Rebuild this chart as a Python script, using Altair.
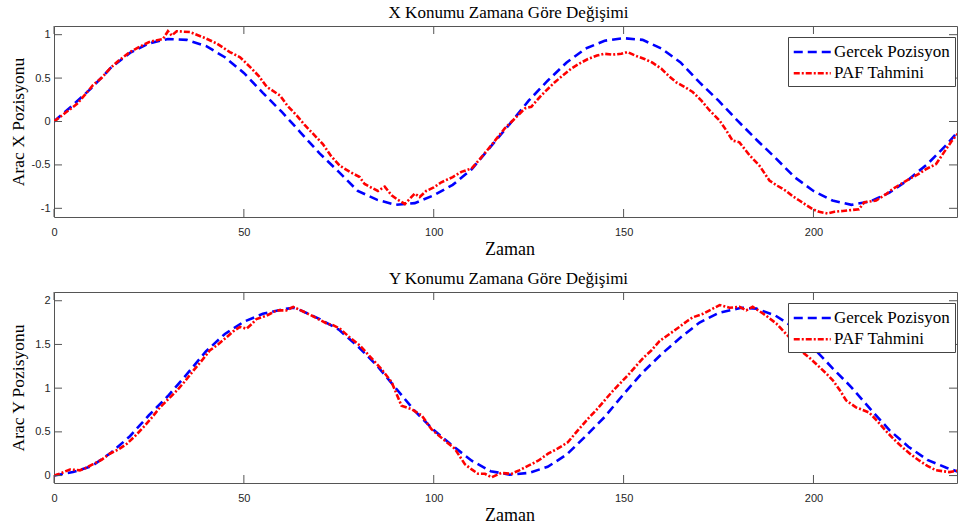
import altair as alt
import pandas as pd

# ---------------- data ----------------
SERIES = ["Gercek Pozisyon", "PAF Tahmini"]

X_TRUE_T = [0, 5, 10, 15, 20, 25, 30, 35, 40, 45, 50, 55, 60, 65, 70, 75, 80, 85, 90, 95,
            100, 105, 110, 115, 120, 125, 130, 135, 140, 145, 150, 155, 160, 165, 170, 175,
            180, 185, 190, 195, 200, 205, 210, 215, 220, 225, 230, 235, 238.4]
X_TRUE_V = [0.00, 0.19, 0.39, 0.62, 0.79, 0.90, 0.95, 0.94, 0.87, 0.74, 0.56, 0.33, 0.11, -0.13,
            -0.37, -0.58, -0.80, -0.90, -0.96, -0.94, -0.85, -0.73, -0.55, -0.29, -0.03, 0.24,
            0.47, 0.68, 0.84, 0.93, 0.96, 0.94, 0.84, 0.68, 0.45, 0.24, 0.01, -0.21, -0.42,
            -0.64, -0.80, -0.91, -0.96, -0.92, -0.82, -0.67, -0.49, -0.27, -0.10]

X_PAF_T = [0, 3, 6, 8, 10.3, 12.5, 14.7, 17, 20, 22.5, 25.3, 28.7, 30, 31, 32.3, 35.8, 39.3,
           42.8, 46.3, 49, 51.6, 54, 56, 59.5, 61.5, 63.9, 66, 68.2, 70.8, 73, 75.3, 77.9,
           80.5, 81.8, 83.5, 85.3, 87.1, 88.9, 90.5, 92.4, 95, 96.3, 98, 100, 102, 105, 107.3,
           110, 112, 114.3, 116.5, 118.7, 121.5, 124, 125.7, 128.3, 131.8, 134, 136.2, 138.5,
           140.6, 143, 145, 147, 149.4, 151, 153, 155.5, 157.5, 159.9, 162, 163.9, 166, 168.2,
           170.5, 172.6, 175.3, 177, 178.7, 180.5, 183.2, 185.8, 188.4, 190.5, 192.8, 194.5,
           196.3, 198, 199.8, 201.5, 203.7, 205.5, 207.7, 210, 212, 213.4, 216.5, 219, 220.8,
           223, 225.3, 227.5, 229.6, 232.3, 234.9, 236.5, 238.4]
X_PAF_V = [0.00, 0.10, 0.20, 0.30, 0.42, 0.50, 0.61, 0.70, 0.80, 0.86, 0.92, 0.95, 1.04, 0.99,
           1.04, 1.03, 0.97, 0.90, 0.80, 0.74, 0.63, 0.52, 0.40, 0.30, 0.18, 0.07, -0.04, -0.14,
           -0.26, -0.40, -0.51, -0.58, -0.64, -0.72, -0.76, -0.80, -0.75, -0.85, -0.90, -0.95,
           -0.83, -0.87, -0.80, -0.76, -0.70, -0.64, -0.58, -0.54, -0.44, -0.32, -0.20, -0.08,
           0.04, 0.15, 0.17, 0.30, 0.45, 0.53, 0.61, 0.67, 0.72, 0.76, 0.78, 0.77, 0.78, 0.80,
           0.76, 0.72, 0.68, 0.61, 0.52, 0.45, 0.40, 0.34, 0.24, 0.13, 0.01, -0.10, -0.22, -0.24,
           -0.39, -0.51, -0.68, -0.74, -0.80, -0.86, -0.91, -0.96, -1.01, -1.04, -1.06, -1.04,
           -1.03, -1.02, -1.01, -0.93, -0.91, -0.84, -0.78, -0.72, -0.66, -0.61, -0.55, -0.49,
           -0.32, -0.22, -0.12]

Y_TRUE_T = [0, 5, 10, 15, 20, 25, 30, 35, 40, 45, 50, 55, 60, 63, 65, 70, 75, 80, 85, 90, 95,
            100, 105, 110, 115, 120, 125, 130, 135, 140, 145, 150, 155, 160, 165, 170, 175,
            181, 185, 190, 195, 200, 205, 210, 215, 220, 225, 230, 235, 238.4]
Y_TRUE_V = [0.00, 0.04, 0.11, 0.26, 0.45, 0.69, 0.91, 1.16, 1.42, 1.62, 1.76, 1.85, 1.90, 1.92,
            1.89, 1.79, 1.67, 1.48, 1.26, 1.00, 0.74, 0.52, 0.34, 0.17, 0.05, 0.01, 0.03, 0.10,
            0.24, 0.45, 0.67, 0.93, 1.18, 1.39, 1.58, 1.75, 1.86, 1.92, 1.91, 1.83, 1.69, 1.46,
            1.23, 1.01, 0.76, 0.52, 0.33, 0.18, 0.09, 0.04]

Y_PAF_T = [0, 2, 4.2, 6.8, 8.5, 10.3, 12.5, 14.7, 17, 19.1, 21.3, 23.5, 25.7, 27.9, 30, 32.3,
           34.5, 36.7, 39, 41, 43.2, 45.4, 47.2, 49, 50.7, 52, 53.3, 56, 58.6, 61.2, 63, 65,
           67.4, 69.6, 71.8, 73.5, 75.3, 77.9, 80.5, 81.8, 84.5, 86.2, 88.9, 91.5, 94.1, 96.8,
           99.4, 102.9, 105.5, 108.2, 110, 111.7, 113.5, 115.2, 117.8, 120.4, 122.5, 124.8,
           127.5, 130.1, 132.7, 135.3, 138, 140.6, 142.8, 145, 147.2, 149.4, 151.6, 153.8,
           155.5, 157.3, 159.5, 162.1, 164.7, 166.5, 168.2, 170.9, 173.5, 175.3, 177.9, 180.5,
           182.3, 184, 185.8, 187.5, 190.2, 192.8, 195, 197.2, 199.4, 201.6, 203.3, 205.1,
           206.9, 208.6, 211.2, 213, 214.7, 216.9, 219.1, 221.3, 223.5, 225.7, 227.9, 230,
           232.3, 234, 235.8, 238.4]
Y_PAF_V = [0.00, 0.03, 0.07, 0.06, 0.09, 0.13, 0.18, 0.25, 0.30, 0.36, 0.45, 0.55, 0.66, 0.78,
           0.87, 0.97, 1.08, 1.20, 1.32, 1.43, 1.50, 1.58, 1.65, 1.70, 1.68, 1.73, 1.79, 1.83,
           1.89, 1.89, 1.93, 1.89, 1.84, 1.79, 1.74, 1.72, 1.68, 1.58, 1.49, 1.43, 1.30, 1.22,
           1.07, 0.80, 0.76, 0.69, 0.53, 0.40, 0.31, 0.13, 0.07, 0.02, 0.02, -0.02, 0.03, 0.02,
           0.06, 0.11, 0.17, 0.25, 0.31, 0.38, 0.52, 0.65, 0.75, 0.86, 0.97, 1.07, 1.17, 1.28,
           1.36, 1.43, 1.54, 1.62, 1.70, 1.76, 1.81, 1.85, 1.91, 1.95, 1.92, 1.93, 1.89, 1.93,
           1.88, 1.83, 1.74, 1.62, 1.52, 1.41, 1.33, 1.24, 1.17, 1.09, 0.98, 0.86, 0.78, 0.75,
           0.72, 0.62, 0.51, 0.41, 0.32, 0.24, 0.17, 0.11, 0.06, 0.05, 0.04, 0.06]

X_TICKS = [0, 50, 100, 150, 200]
X_DOMAIN = [0, 237.8]
TOP_TICKS = [-1, -0.5, 0, 0.5, 1]
TOP_DOMAIN = [-1.1, 1.1]
BOT_TICKS = [0, 0.5, 1, 1.5, 2]
BOT_DOMAIN = [-0.085, 2.1]

# ---------------- layout / style ----------------
W, H = 903, 191
SERIF = "Liberation Serif"
SANS = "Liberation Sans"
FRAME = "#555555"
TICK = 8
SYM = 18.5  # legend symbol column (line drawn twice as long)


def frame_df(t1, v1, t2, v2):
    return pd.DataFrame({
        "t": list(t1) + list(t2),
        "v": list(v1) + list(v2),
        "series": [SERIES[0]] * len(t1) + [SERIES[1]] * len(t2),
    })


def panel(df, ydom, yticks, ytitle, title):
    legend = alt.Legend(
        title=None, orient="none", legendX=734, legendY=11,
        symbolType="M-1,0L3,0", symbolSize=SYM * SYM, symbolStrokeWidth=2.5,
        symbolFillColor="transparent",
        labelFont=SERIF, labelFontSize=17, labelColor="black", labelLimit=0,
        padding=4.5, rowPadding=2.2, labelOffset=SYM + 2,
        fillColor="white", strokeColor="#444444",
    )
    xscale = alt.Scale(domain=X_DOMAIN, nice=False, zero=False)
    yscale = alt.Scale(domain=ydom, nice=False, zero=False)
    xaxis = alt.Axis(
        values=X_TICKS, title="Zaman", ticks=False, tickSize=0, domain=False, grid=False,
        labelFont=SANS, labelFontSize=11, labelColor="#262626", labelPadding=9,
        labelFlush=False, labelExpr="'' + datum.value",
        titleFont=SERIF, titleFontSize=18, titleFontWeight="normal", titleColor="black",
        titleX=W / 2 + 4, titleY=37.5, titleBaseline="alphabetic", titleAlign="center")
    yaxis = alt.Axis(
        values=yticks, title=ytitle, ticks=False, tickSize=0, domain=False, grid=False,
        labelFont=SANS, labelFontSize=11, labelColor="#262626", labelPadding=4,
        labelExpr="'' + datum.value",
        titleFont=SERIF, titleFontSize=17.5, titleFontWeight="normal", titleColor="black",
        titleX=-31, titleY=H / 2, titleAngle=270, titleBaseline="alphabetic",
        titleAlign="center")
    lines = alt.Chart(df).mark_line(strokeWidth=2.6, clip=True).encode(
        x=alt.X("t:Q", scale=xscale, axis=xaxis),
        y=alt.Y("v:Q", scale=yscale, axis=yaxis),
        color=alt.Color("series:N", scale=alt.Scale(domain=SERIES, range=["#0000ff", "#ff0000"]),
                        legend=legend),
        strokeDash=alt.StrokeDash("series:N", scale=alt.Scale(domain=SERIES,
                                  range=[[9, 5], [6, 2, 2, 2]]), legend=legend),
    )
    xt = pd.DataFrame({"t": X_TICKS})
    yt = pd.DataFrame({"v": yticks})
    rule = dict(color=FRAME, strokeWidth=1)
    xb = alt.Chart(xt).mark_rule(**rule).encode(
        x=alt.X("t:Q", scale=xscale, axis=xaxis), y=alt.value(H), y2=alt.value(H - TICK))
    xtp = alt.Chart(xt).mark_rule(**rule).encode(
        x=alt.X("t:Q", scale=xscale, axis=xaxis), y=alt.value(0), y2=alt.value(TICK))
    yl = alt.Chart(yt).mark_rule(**rule).encode(
        y=alt.Y("v:Q", scale=yscale, axis=yaxis), x=alt.value(0), x2=alt.value(TICK))
    yr = alt.Chart(yt).mark_rule(**rule).encode(
        y=alt.Y("v:Q", scale=yscale, axis=yaxis), x=alt.value(W), x2=alt.value(W - TICK))
    return alt.layer(lines, xb, xtp, yl, yr).properties(
        width=W, height=H,
        title=alt.TitleParams(title, font=SERIF, fontSize=17, fontWeight="normal",
                              color="black", anchor="middle", baseline="alphabetic",
                              offset=-9.5, dx=3),
    )


top = panel(frame_df(X_TRUE_T, X_TRUE_V, X_PAF_T, X_PAF_V), TOP_DOMAIN, TOP_TICKS,
            "Arac X Pozisyonu", "X Konumu Zamana Göre Değişimi")
bottom = panel(frame_df(Y_TRUE_T, Y_TRUE_V, Y_PAF_T, Y_PAF_V), BOT_DOMAIN, BOT_TICKS,
               "Arac Y Pozisyonu", "Y Konumu Zamana Göre Değişimi")

chart = alt.vconcat(top, bottom, spacing=10).resolve_scale(
    x="independent", y="independent", color="independent", strokeDash="independent"
).resolve_legend(color="independent", strokeDash="independent").properties(
    padding={"left": 8, "top": 3, "right": 0, "bottom": 0},
    background="white",
).configure_view(stroke=FRAME, strokeWidth=1)

chart.save("out.html", embed_options={"renderer": "svg", "actions": False})
